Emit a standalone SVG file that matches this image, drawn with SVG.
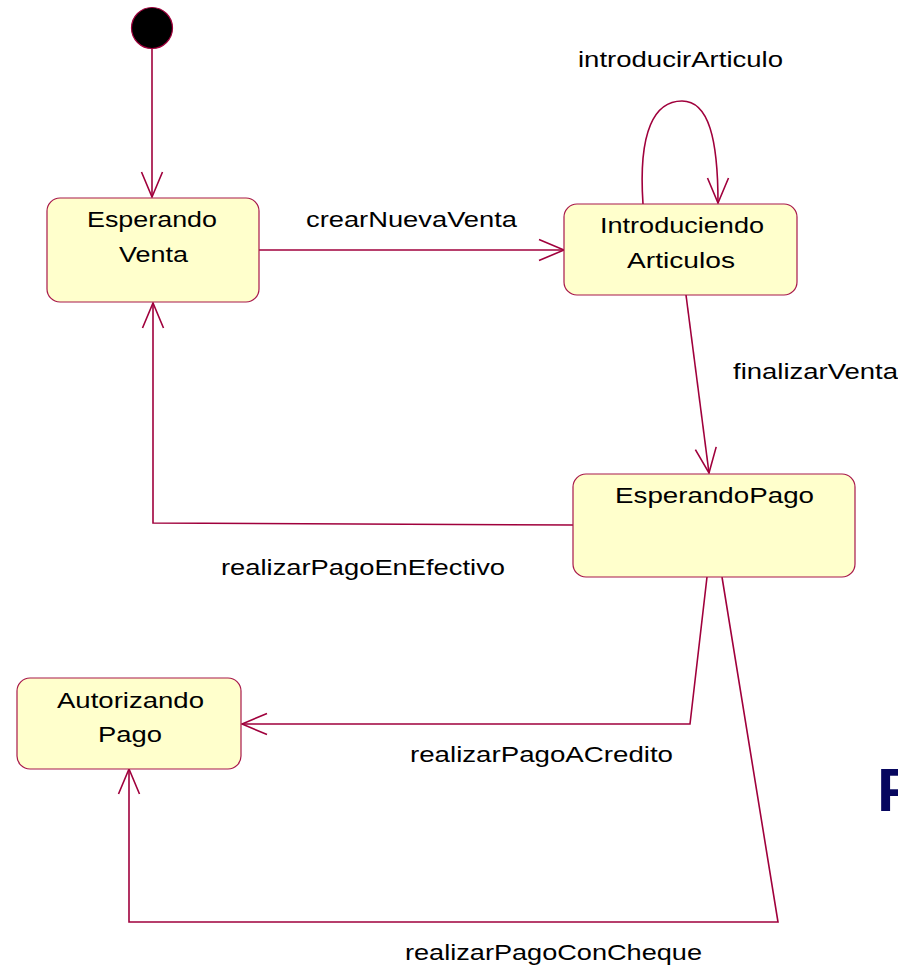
<svg xmlns="http://www.w3.org/2000/svg" width="898" height="970" viewBox="0 0 898 970">
<style>
.node rect{fill:#FFFFCC;stroke:#A8184A;stroke-width:1.2}
.t{font-family:"Liberation Sans",Arial,sans-serif;font-size:22px;fill:#000}
.c{fill:none;stroke:#A0003C;stroke-width:1.6}
</style>
<defs>
<marker id="arr" viewBox="-27 -12 29 24" refX="0" refY="0" markerWidth="29" markerHeight="24" markerUnits="userSpaceOnUse" orient="auto">
<path d="M-25,-10.5 L0,0 L-25,10.5" fill="none" stroke="#A0003C" stroke-width="1.6"/>
</marker>
</defs>
<rect width="898" height="970" fill="#fff"/>
<g id="connectors">
<path class="c" d="M152,48 L152,197" marker-end="url(#arr)"/>
<path class="c" d="M259,250 L564,250" marker-end="url(#arr)"/>
<path class="c" d="M643,204 C638,130 655,101 682,101 C709,101 718,140 718,203" marker-end="url(#arr)"/>
<path class="c" d="M686,295 L709,473" marker-end="url(#arr)"/>
<path class="c" d="M573,525 L153,523 L153,303" marker-end="url(#arr)"/>
<path class="c" d="M707,577 L690,724 L242,724" marker-end="url(#arr)"/>
<path class="c" d="M722,577 L778,922 L129,922 L129,769" marker-end="url(#arr)"/>
</g>
<g id="start">
<circle cx="152" cy="28" r="20.5" fill="#000" stroke="#A0003C" stroke-width="1.2"/>
</g>
<g id="esperandoVenta" class="node">
<rect x="47" y="198" width="212" height="104" rx="13"/>
<text class="t" x="87" y="227" textLength="130" lengthAdjust="spacingAndGlyphs">Esperando</text>
<text class="t" x="119" y="262" textLength="69" lengthAdjust="spacingAndGlyphs">Venta</text>
</g>
<g id="introduciendoArticulos" class="node">
<rect x="564" y="204" width="233" height="91" rx="13"/>
<text class="t" x="600" y="233" textLength="164" lengthAdjust="spacingAndGlyphs">Introduciendo</text>
<text class="t" x="627" y="268" textLength="108" lengthAdjust="spacingAndGlyphs">Articulos</text>
</g>
<g id="esperandoPago" class="node">
<rect x="573" y="474" width="282" height="103" rx="13"/>
<text class="t" x="615" y="503" textLength="199" lengthAdjust="spacingAndGlyphs">EsperandoPago</text>
</g>
<g id="autorizandoPago" class="node">
<rect x="17" y="678" width="224" height="91" rx="13"/>
<text class="t" x="57" y="708" textLength="147" lengthAdjust="spacingAndGlyphs">Autorizando</text>
<text class="t" x="98" y="742" textLength="64" lengthAdjust="spacingAndGlyphs">Pago</text>
</g>
<g id="labels">
<text class="t" x="306" y="227" textLength="211" lengthAdjust="spacingAndGlyphs">crearNuevaVenta</text>
<text class="t" x="578" y="67" textLength="205" lengthAdjust="spacingAndGlyphs">introducirArticulo</text>
<text class="t" x="733" y="379" textLength="165" lengthAdjust="spacingAndGlyphs">finalizarVenta</text>
<text class="t" x="221" y="575" textLength="284" lengthAdjust="spacingAndGlyphs">realizarPagoEnEfectivo</text>
<text class="t" x="410" y="762" textLength="263" lengthAdjust="spacingAndGlyphs">realizarPagoACredito</text>
<text class="t" x="405" y="960" textLength="297" lengthAdjust="spacingAndGlyphs">realizarPagoConCheque</text>
<text x="877" y="811" font-family="'Liberation Sans',Arial,sans-serif" font-weight="bold" font-size="62" fill="#07075F">P</text>
</g>
</svg>
